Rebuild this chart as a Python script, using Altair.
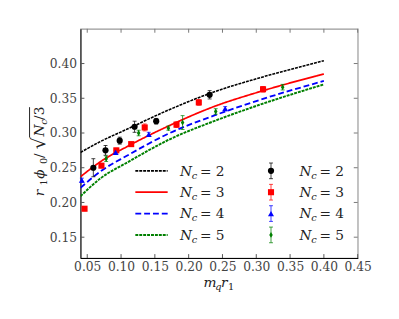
import altair as alt
import pandas as pd

# ---------------- data ----------------
nc_labels = ["2", "3", "4", "5"]
series_colors = ["#000000", "#ff0000", "#0000ff", "#008000"]

curve_x = [0.04, 0.07, 0.11, 0.17, 0.24, 0.30, 0.40]
curve_nc2 = [0.272, 0.288, 0.306, 0.333, 0.360, 0.378, 0.404]
curve_nc3 = [0.237, 0.259, 0.281, 0.310, 0.339, 0.358, 0.385]
curve_nc4 = [0.221, 0.245, 0.268, 0.299, 0.326, 0.346, 0.375]
curve_nc5 = [0.209, 0.235, 0.258, 0.290, 0.318, 0.339, 0.370]

pts_nc2_x = [0.059, 0.077, 0.098, 0.120, 0.152, 0.231]
pts_nc2_y = [0.250, 0.275, 0.289, 0.309, 0.317, 0.355]
pts_nc2_e = [0.013, 0.007, 0.005, 0.008, 0.004, 0.006]

pts_nc3_x = [0.046, 0.071, 0.093, 0.115, 0.135, 0.182, 0.215, 0.310]
pts_nc3_y = [0.191, 0.253, 0.275, 0.284, 0.308, 0.312, 0.344, 0.363]
pts_nc3_e = [0.003, 0.003, 0.003, 0.002, 0.005, 0.004, 0.004, 0.004]

pts_nc4_x = [0.042, 0.092, 0.141, 0.254]
pts_nc4_y = [0.232, 0.272, 0.298, 0.335]
pts_nc4_e = [0.003, 0.003, 0.003, 0.003]

pts_nc5_x = [0.078, 0.126, 0.170, 0.191, 0.240, 0.339]
pts_nc5_y = [0.263, 0.300, 0.307, 0.315, 0.331, 0.366]
pts_nc5_e = [0.004, 0.004, 0.003, 0.010, 0.004, 0.004]

x_ticks = [0.05, 0.10, 0.15, 0.20, 0.25, 0.30, 0.35, 0.40, 0.45]
y_ticks = [0.15, 0.20, 0.25, 0.30, 0.35, 0.40]

# ---------------- tables ----------------
curves = pd.concat([
    pd.DataFrame({"x": curve_x, "y": ys, "nc": lab})
    for ys, lab in zip([curve_nc2, curve_nc3, curve_nc4, curve_nc5], nc_labels)
])
pts = pd.concat([
    pd.DataFrame({"x": xs, "y": ys, "e": es, "nc": lab})
    for xs, ys, es, lab in zip(
        [pts_nc2_x, pts_nc3_x, pts_nc4_x, pts_nc5_x],
        [pts_nc2_y, pts_nc3_y, pts_nc4_y, pts_nc5_y],
        [pts_nc2_e, pts_nc3_e, pts_nc4_e, pts_nc5_e],
        nc_labels)
])
pts["lo"] = pts["y"] - pts["e"]
pts["hi"] = pts["y"] + pts["e"]
leg = pd.DataFrame({"nc": nc_labels, "i": list(range(len(nc_labels)))})

W, H = 283, 234
XD = [0.04, 0.45]
YD = [0.12, 0.45]
SERIF = "DejaVu Serif"

color_scale = alt.Scale(domain=nc_labels, range=series_colors)
dash_scale = alt.Scale(domain=nc_labels, range=[[3, 1], [1, 0], [6, 3], [3, 1]])
width_scale = alt.Scale(domain=nc_labels, range=[1.6, 2, 2, 1.6])
shape_scale = alt.Scale(domain=nc_labels,
                        range=["circle", "square", "triangle-up", "M0,-1L0.6,0L0,1L-0.6,0Z"])
size_scale = alt.Scale(domain=nc_labels, range=[40, 36, 28, 34])

X_AXIS = alt.Axis(values=x_ticks, format=".2f", title=None, grid=False, ticks=False,
                  labelPadding=3, domainColor="#000", labelFlush=False)
Y_AXIS = alt.Axis(values=y_ticks, format=".2f", title=None, grid=False, ticks=False,
                  labelPadding=4, domainColor="#000")
X = lambda f="x": alt.X(f"{f}:Q", scale=alt.Scale(domain=XD), axis=X_AXIS)
Y = lambda f="y": alt.Y(f"{f}:Q", scale=alt.Scale(domain=YD), axis=Y_AXIS)

lines = alt.Chart(curves).mark_line(clip=True, interpolate="monotone").encode(
    x=X(), y=Y(),
    color=alt.Color("nc:N", scale=color_scale, legend=None),
    strokeDash=alt.StrokeDash("nc:N", scale=dash_scale, legend=None),
    strokeWidth=alt.StrokeWidth("nc:N", scale=width_scale, legend=None),
)

ebars = alt.Chart(pts).mark_rule(strokeWidth=1, opacity=0.75).encode(
    x=X(), y=Y("lo"), y2="hi:Q",
    color=alt.Color("nc:N", scale=color_scale, legend=None),
)
caps_lo = alt.Chart(pts).mark_tick(orient="horizontal", thickness=1, size=4, opacity=0.75).encode(
    x=X(), y=Y("lo"), color=alt.Color("nc:N", scale=color_scale, legend=None))
caps_hi = alt.Chart(pts).mark_tick(orient="horizontal", thickness=1, size=4, opacity=0.75).encode(
    x=X(), y=Y("hi"), color=alt.Color("nc:N", scale=color_scale, legend=None))
points = alt.Chart(pts).mark_point(filled=True, opacity=1, strokeWidth=0.5).encode(
    x=X(), y=Y(),
    color=alt.Color("nc:N", scale=color_scale, legend=None),
    shape=alt.Shape("nc:N", scale=shape_scale, legend=None),
    size=alt.Size("nc:N", scale=size_scale, legend=None),
)

# inward ticks
tk = pd.DataFrame({"v": x_ticks})
tky = pd.DataFrame({"v": y_ticks})
tick_b = alt.Chart(tk).mark_rule(color="#555", strokeWidth=1).encode(
    x=X("v"), y=alt.value(H), y2=alt.value(H - 4))
tick_t = alt.Chart(tk).mark_rule(color="#777", strokeWidth=1).encode(
    x=X("v"), y=alt.value(0), y2=alt.value(4))
tick_l = alt.Chart(tky).mark_rule(color="#555", strokeWidth=1).encode(
    y=Y("v"), x=alt.value(0), x2=alt.value(4))
tick_r = alt.Chart(tky).mark_rule(color="#777", strokeWidth=1).encode(
    y=Y("v"), x=alt.value(W), x2=alt.value(W - 4))

# manual legend (pixel positions)
legb = alt.Chart(leg).transform_calculate(
    ly="145 + 21.8 * datum.i", lx1="56", lx2="89", mx="194.5",
    lo="145 + 21.8 * datum.i - 8", hi="145 + 21.8 * datum.i + 8",
    tb="145 + 21.8 * datum.i + 5", sb="145 + 21.8 * datum.i + 8",
    c1N="101.5", c1c="113.5", c1e="122", c1d="138",
    c2N="223.5", c2c="235.5", c2e="244", c2d="260",
)
PX = lambda f: alt.X(f"{f}:Q", scale=None, axis=None)
PY = lambda f: alt.Y(f"{f}:Q", scale=None, axis=None)

leg_lines = legb.mark_rule().encode(
    x=PX("lx1"), x2="lx2:Q", y=PY("ly"),
    color=alt.Color("nc:N", scale=color_scale, legend=None),
    strokeDash=alt.StrokeDash("nc:N", scale=dash_scale, legend=None),
    strokeWidth=alt.StrokeWidth("nc:N", scale=width_scale, legend=None),
)
leg_eb = legb.mark_rule(strokeWidth=1, opacity=0.75).encode(
    x=PX("mx"), y=PY("lo"), y2="hi:Q", color=alt.Color("nc:N", scale=color_scale, legend=None))
leg_cl = legb.mark_tick(orient="horizontal", thickness=1, size=4, opacity=0.75).encode(
    x=PX("mx"), y=PY("lo"), color=alt.Color("nc:N", scale=color_scale, legend=None))
leg_ch = legb.mark_tick(orient="horizontal", thickness=1, size=4, opacity=0.75).encode(
    x=PX("mx"), y=PY("hi"), color=alt.Color("nc:N", scale=color_scale, legend=None))
leg_pts = legb.mark_point(filled=True, opacity=1, strokeWidth=0.5).encode(
    x=PX("mx"), y=PY("ly"),
    color=alt.Color("nc:N", scale=color_scale, legend=None),
    shape=alt.Shape("nc:N", scale=shape_scale, legend=None),
    size=alt.Size("nc:N", scale=size_scale, legend=None),
)

TXT = dict(font=SERIF, color="#222", align="left", baseline="alphabetic")
leg_texts = []
for col in ["c1", "c2"]:
    leg_texts.append(legb.mark_text(fontSize=14, fontStyle="italic", **TXT).encode(
        x=PX(col + "N"), y=PY("tb"), text=alt.value("N")))
    leg_texts.append(legb.mark_text(fontSize=10, fontStyle="italic", **TXT).encode(
        x=PX(col + "c"), y=PY("sb"), text=alt.value("c")))
    leg_texts.append(legb.mark_text(fontSize=14, **TXT).encode(
        x=PX(col + "e"), y=PY("tb"), text=alt.value("=")))
    leg_texts.append(legb.mark_text(fontSize=14, **TXT).encode(
        x=PX(col + "d"), y=PY("tb"), text="nc:N"))

# axis titles built from pieces
one = pd.DataFrame({"k": [0]})
def piece(txt, x, y, size=14, italic=True, angle=0):
    kw = dict(TXT)
    kw.update(fontSize=size, angle=angle)
    if italic:
        kw["fontStyle"] = "italic"
    return alt.Chart(one).mark_text(**kw).encode(
        x=alt.value(x), y=alt.value(y), text=alt.value(txt))

xtitle = [
    piece("m", 125.5, 263.5), piece("q", 137.5, 266.5, 10),
    piece("r", 143.5, 263.5), piece("1", 150.5, 266.5, 10, italic=False),
]
ytitle = [
    piece("r", -37, 171, angle=270), piece("1", -34, 160, 10, False, 270),
    piece("ϕ", -37, 153, angle=270), piece("0", -34, 138, 10, False, 270),
    piece("/", -37, 132, italic=False, angle=270),
    piece("√", -36, 123, 19, False, 270),
    piece("N", -37, 110, angle=270), piece("c", -34, 98, 10, True, 270),
    piece("/3", -37, 93, italic=False, angle=270),
]
overline = alt.Chart(one).mark_rule(color="#222", strokeWidth=1).encode(
    x=alt.value(-52), y=alt.value(80), y2=alt.value(111))

chart = alt.layer(
    lines, tick_b, tick_t, tick_l, tick_r, ebars, caps_lo, caps_hi, points,
    leg_lines, leg_eb, leg_cl, leg_ch, leg_pts, *leg_texts, *xtitle, *ytitle, overline,
).properties(
    width=W, height=H,
    autosize=alt.AutoSizeParams(type="none"),
    padding={"left": 74, "top": 18, "right": 34, "bottom": 59},
).configure_view(
    stroke="#999", strokeWidth=1.2
).configure_axis(
    labelFont=SERIF, labelFontSize=12.5, labelColor="#444",
)

chart.save("out.html", embed_options={"renderer": "svg", "actions": False})
